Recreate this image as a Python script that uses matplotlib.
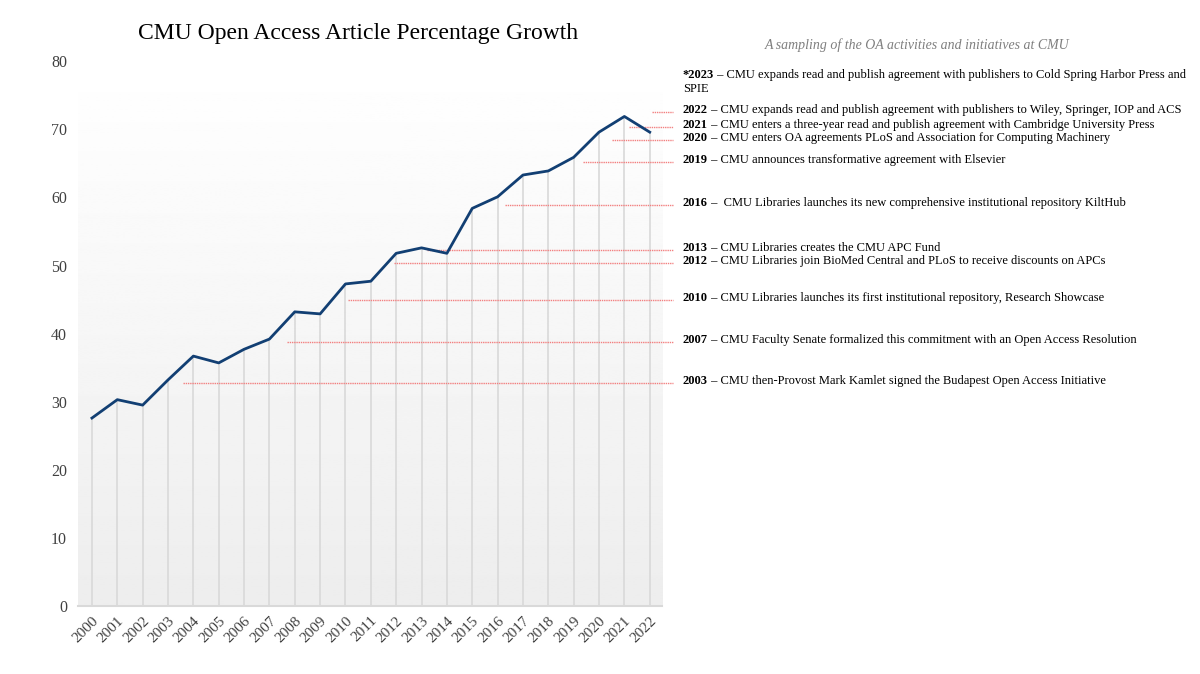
import matplotlib
matplotlib.use('Agg')
import matplotlib.pyplot as plt
import numpy as np
from matplotlib.transforms import blended_transform_factory

plt.rcParams['font.family'] = ['Liberation Serif', 'DejaVu Serif']

# OA article percentage by year
years = [str(y) for y in range(2000, 2023)]
oa_pct = [27.6, 30.3, 29.5, 33.2, 36.7, 35.7, 37.7, 39.2, 43.2, 42.9, 47.3, 47.7,
          51.8, 52.6, 51.8, 58.4, 60.1, 63.3, 63.9, 65.9, 69.6, 71.9, 69.6]

# events: bold label, description, level on y axis, where the leader starts (x index)
ev_label = ['*2023', '2022', '2021', '2020', '2019', '2016', '2013', '2012', '2010', '2007', '2003']
ev_text = [' – CMU expands read and publish agreement with publishers to Cold Spring Harbor Press and',
           ' – CMU expands read and publish agreement with publishers to Wiley, Springer, IOP and ACS',
           ' – CMU enters a three-year read and publish agreement with Cambridge University Press',
           ' – CMU enters OA agreements PLoS and Association for Computing Machinery',
           ' – CMU announces transformative agreement with Elsevier',
           ' –  CMU Libraries launches its new comprehensive institutional repository KiltHub',
           ' – CMU Libraries creates the CMU APC Fund',
           ' – CMU Libraries join BioMed Central and PLoS to receive discounts on APCs',
           ' – CMU Libraries launches its first institutional repository, Research Showcase',
           ' – CMU Faculty Senate formalized this commitment with an Open Access Resolution',
           ' – CMU then-Provost Mark Kamlet signed the Budapest Open Access Initiative']
ev_y = [78.0, 72.8, 70.7, 68.7, 65.5, 59.2, 52.6, 50.7, 45.3, 39.0, 33.0]
ev_start = [None, 22.1, 21.2, 20.5, 19.35, 16.3, 13.2, 11.9, 10.1, 7.7, 3.6]

fig = plt.figure(figsize=(12, 6.74), dpi=100)
ax = fig.add_axes([0.065, 0.101, 0.487, 0.808])

x = np.arange(len(years))
# soft gradient background
grad = np.linspace(1.0, 0.93, 256).reshape(-1, 1)
ax.imshow(grad, cmap='gray', vmin=0, vmax=1, aspect='auto',
          extent=(-0.55, 22.5, 0, 80), zorder=0)
ax.vlines(x, 0, oa_pct, color='#d9d9d9', lw=1.2, zorder=1)
ax.plot(x, oa_pct, color='#123f73', lw=2, zorder=3)

ax.set_xlim(-0.55, 22.5)
ax.set_ylim(0, 80)
ax.set_xticks(x)
ax.set_xticklabels(years, rotation=45, ha='right', rotation_mode='anchor', fontsize=11, color='#404040')
ax.set_yticks(range(0, 81, 10))
ax.tick_params(axis='y', labelsize=11.5, colors='#404040', length=0, pad=8)
ax.tick_params(axis='x', length=0, pad=6)
for s in ['top', 'right', 'left']:
    ax.spines[s].set_visible(False)
ax.spines['bottom'].set_color('#d9d9d9')
ax.spines['bottom'].set_linewidth(1.5)

# leader lines and event texts
tr = blended_transform_factory(fig.transFigure, ax.transData)
for lab, txt, yv, xs, in zip(ev_label, ev_text, ev_y, ev_start):
    if xs is not None:
        ax.plot([xs, 22.9], [yv - 0.3, yv - 0.3], color='#f28080', lw=1, ls=(0, (1, 0.6)),
                clip_on=False, zorder=2)
    t = fig.text(0.569, yv, lab, transform=tr, fontsize=9, fontweight='bold', va='center')
    ax.annotate(txt, xy=(1, 0), xycoords=t, va='bottom', ha='left', fontsize=9,
                annotation_clip=False)
fig.text(0.569, 75.9, 'SPIE', transform=tr, fontsize=9, va='center')

fig.text(0.298, 0.951, 'CMU Open Access Article Percentage Growth', fontsize=17, ha='center', va='center')
fig.text(0.764, 0.933, 'A sampling of the OA activities and initiatives at CMU', fontsize=10,
         style='italic', color='#7f7f7f', ha='center', va='center')

plt.savefig('out.png', dpi=100)
